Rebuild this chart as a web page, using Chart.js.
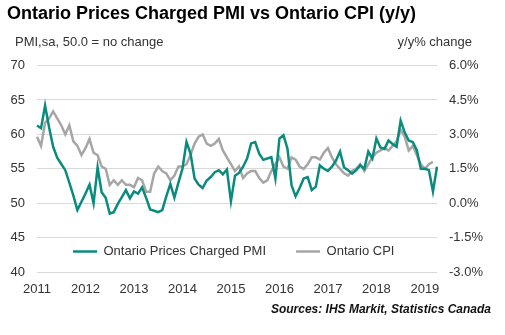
<!DOCTYPE html>
<html>
<head>
<meta charset="utf-8">
<script src="https://cdn.jsdelivr.net/npm/chart.js@4/dist/chart.umd.min.js"></script>
<style>
  html, body { margin: 0; padding: 0; background: #fff; }
  #wrap { position: relative; width: 505px; height: 335px; }
</style>
</head>
<body>
<div id="wrap"><canvas id="pmiCpi"></canvas></div>
<script>
// Ontario prices charged PMI (sa) vs Ontario CPI (y/y %), monthly Jan 2011 onwards
const years = ['2011', '2012', '2013', '2014', '2015', '2016', '2017', '2018', '2019'];
const monthNames = ['Jan', 'Feb', 'Mar', 'Apr', 'May', 'Jun', 'Jul', 'Aug', 'Sep', 'Oct', 'Nov', 'Dec'];

const pmiPrices = [
    61.3, 60.9, 64.2, 61.0, 58.2, 56.6, 55.7, 54.8, 53.0, 51.1, 49.0, 50.2, // 2011
    51.4, 52.7, 50.0, 55.2, 51.6, 50.8, 48.5, 48.7, 49.9, 50.9, 51.9, 50.7, // 2012
    51.7, 51.4, 52.3, 50.8, 49.1, 48.9, 48.7, 49.0, 51.0, 52.8, 50.8, 53.0, // 2013
    55.0, 58.9, 57.2, 53.6, 52.7, 52.2, 53.3, 53.8, 54.5, 54.8, 54.2, 54.9, // 2014
    50.3, 54.0, 54.4, 55.3, 56.5, 58.7, 58.9, 57.2, 56.3, 56.5, 56.7, 53.6, // 2015
    59.4, 59.9, 57.9, 52.6, 51.0, 52.2, 53.6, 53.8, 51.9, 52.4, 55.5, 55.0, // 2016
    54.7, 55.3, 56.2, 57.5, 55.2, 54.8, 54.3, 54.8, 55.5, 55.0, 57.5, 56.5, // 2017
    59.4, 58.1, 57.9, 59.1, 58.6, 58.2, 62.0, 60.3, 59.1, 58.9, 57.7, 55.0, // 2018
    55.0, 54.8, 51.7, 55.3                                                  // 2019
];

const cpiYoY = [
    2.9, 2.5, 3.5, 3.7, 4.0, 3.7, 3.4, 3.0, 3.4, 2.7, 2.5, 2.1, // 2011
    2.4, 2.8, 2.2, 2.1, 1.6, 1.5, 0.8, 1.0, 0.8, 1.0, 0.8, 0.8, // 2012
    0.7, 1.1, 1.0, 0.5, 0.5, 1.3, 1.6, 1.4, 1.3, 1.0, 1.2, 1.6, // 2013
    1.6, 1.7, 2.1, 2.6, 2.9, 3.0, 2.6, 2.5, 2.6, 2.8, 2.3, 2.0, // 2014
    1.7, 1.4, 1.6, 1.1, 1.3, 1.4, 1.4, 1.1, 0.9, 1.0, 1.4, 1.7, // 2015
    2.0, 1.6, 1.5, 2.0, 1.9, 1.6, 1.5, 1.7, 2.0, 2.0, 1.9, 2.2, // 2016
    2.4, 2.0, 1.7, 1.5, 1.3, 1.2, 1.4, 1.5, 1.7, 1.4, 1.7, 2.0, // 2017
    2.2, 2.3, 2.4, 2.3, 2.5, 2.7, 3.2, 2.9, 2.3, 2.5, 2.1, 1.7, // 2018
    1.5, 1.7, 1.8                                               // 2019
];

const pmiTicks = { min: 40, max: 70, step: 5 };
const cpiTicks = { min: -3, max: 6, step: 1.5 };

const chartTitle = 'Ontario Prices Charged PMI vs Ontario CPI (y/y)';
const leftAxisNote = 'PMI,sa, 50.0 = no change';
const rightAxisNote = 'y/y% change';
const sourceNote = 'Sources: IHS Markit, Statistics Canada';

const FONT = '"Liberation Sans", Arial, Helvetica, sans-serif';
const TEAL = '#0a8b7d';
const GREY = '#a6a6a6';

const labels = years.flatMap(y => monthNames.map(m => m + ' ' + y)).slice(0, pmiPrices.length);

// legend sits inside the plot, just above the 40 line
const legendInPlot = {
    id: 'legendInPlot',
    afterLayout(chart) {
        const lg = chart.legend;
        const area = chart.chartArea;
        lg.left = area.left + 6;
        lg.right = area.right;
        lg.width = lg.right - lg.left;
        lg.top = area.bottom - 57;
        lg.bottom = lg.top + 60;
        lg.height = 60;
    }
};

// axis notes above the plot and the source line underneath
const notes = {
    id: 'notes',
    afterDraw(chart) {
        const ctx = chart.ctx;
        ctx.save();
        ctx.textBaseline = 'middle';
        ctx.fillStyle = '#333';
        ctx.font = '13px ' + FONT;
        ctx.textAlign = 'left';
        ctx.fillText(leftAxisNote, 15, 42);
        ctx.textAlign = 'right';
        ctx.fillText(rightAxisNote, 472, 42);
        ctx.fillStyle = '#111';
        ctx.font = 'italic bold 12px ' + FONT;
        ctx.fillText(sourceNote, 491, 310);
        ctx.restore();
    }
};

Chart.defaults.font.family = FONT;
Chart.defaults.color = '#333';

new Chart(document.getElementById('pmiCpi'), {
    type: 'line',
    data: {
        labels,
        datasets: [{
            label: 'Ontario Prices Charged PMI',
            data: pmiPrices,
            yAxisID: 'y',
            borderColor: TEAL,
            backgroundColor: TEAL,
            borderWidth: 2.5,
            pointRadius: 0,
            tension: 0
        }, {
            label: 'Ontario CPI',
            data: cpiYoY,
            yAxisID: 'y1',
            borderColor: GREY,
            backgroundColor: GREY,
            borderWidth: 2.5,
            pointRadius: 0,
            tension: 0
        }]
    },
    options: {
        responsive: true,
        maintainAspectRatio: false,
        animation: false,
        layout: { padding: { left: 7, right: 0, top: 0, bottom: 0 } },
        plugins: {
            title: {
                display: true,
                text: chartTitle,
                align: 'start',
                color: '#000',
                font: { size: 18, weight: 'bold' },
                padding: { top: 3, bottom: 40 }
            },
            legend: {
                position: 'top',
                align: 'start',
                maxHeight: 1,
                labels: {
                    usePointStyle: true,
                    pointStyle: 'line',
                    pointStyleWidth: 24,
                    padding: 30,
                    color: '#333',
                    font: { size: 13 }
                }
            },
            tooltip: { enabled: false }
        },
        scales: {
            x: {
                grid: { display: false },
                border: { display: false },
                afterFit: s => { s.height = 63; },
                ticks: {
                    autoSkip: false,
                    maxRotation: 0,
                    minRotation: 0,
                    padding: 2,
                    font: { size: 13 },
                    callback: (v, i) => (i % 12 === 0 ? years[i / 12] : '')
                }
            },
            y: {
                position: 'left',
                min: pmiTicks.min,
                max: pmiTicks.max,
                afterFit: s => { s.width = 30; },
                grid: { color: '#d9d9d9', lineWidth: 1, drawTicks: false },
                border: { display: false },
                ticks: { stepSize: pmiTicks.step, padding: 12, font: { size: 13 } }
            },
            y1: {
                position: 'right',
                min: cpiTicks.min,
                max: cpiTicks.max,
                afterFit: s => { s.width = 68; },
                grid: { display: false, drawTicks: false },
                border: { display: false },
                ticks: {
                    stepSize: cpiTicks.step,
                    padding: 12,
                    font: { size: 13 },
                    callback: v => v.toFixed(1) + '%'
                }
            }
        }
    },
    plugins: [legendInPlot, notes]
});
</script>
</body>
</html>
